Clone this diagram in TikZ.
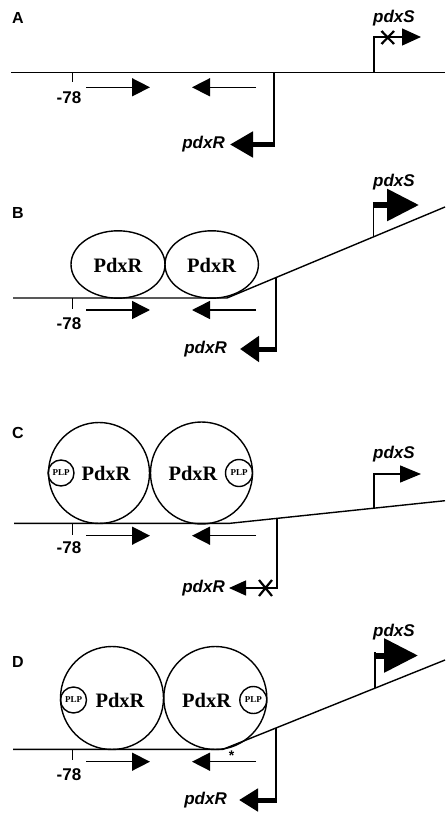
\documentclass[tikz,border=0pt]{standalone}
\usepackage{fontspec}
\setmainfont{Liberation Serif}
\setsansfont{Liberation Sans}
\usetikzlibrary{arrows.meta}

\tikzset{
  dna/.style={line width=1.4pt, line join=miter},
  ln/.style={line width=1.4pt},
  barline/.style={line width=#1},
  tiphead/.style n args={2}{-{Triangle[length=#1pt,width=#2pt]}},
  site/.style={line width=1.5pt, -{Triangle[length=18pt,width=18pt]}},
  panel/.style={font=\sffamily\bfseries\fontsize{16}{16}\selectfont},
  gene/.style={font=\sffamily\bfseries\itshape\fontsize{17}{17}\selectfont, inner sep=0pt},
  poslabel/.style={font=\sffamily\bfseries\fontsize{17}{17}\selectfont, inner sep=0pt},
  prot/.style={font=\bfseries\fontsize{20.5}{20.5}\selectfont, inner sep=0pt},
  plp/.style={font=\bfseries\fontsize{9}{9}\selectfont, inner sep=0pt},
  knock/.style={line width=2.2pt},
}

\begin{document}
\begin{tikzpicture}[x=1pt,y=-1pt]
\useasboundingbox (0,0) rectangle (445,813);
\fill[white] (0,0) rectangle (445,813);

% ---------------- A: free promoter region ----------------
\node[panel] (lA) at (18,18) {A};
\draw[dna] (11,72.7) -- (445,72.7);
\draw[ln] (72.7,72.7) -- (72.7,82);
\node[poslabel] (mA) at (69,98) {-78};
\draw[site] (86,87.3) -- (150,87.3);
\draw[site] (256,87.3) -- (192,87.3);
% pdxR promoter (strong)
\draw[ln] (274,72.7) -- (274,147);
\draw[barline=5pt, tiphead={23}{25}] (274.7,144.5) -- (230,144.5);
\node[gene, anchor=east] (rA) at (225,144.5) {pdxR};
% pdxS promoter (blocked)
\draw[ln, tiphead={19}{17}] (374,72.7) |- (421,37);
\draw[knock] (381.5,31) -- (394,44) (381.5,44) -- (394,31);
\node[gene] (sA) at (394,18) {pdxS};

% ---------------- B: PdxR bound, DNA bent ----------------
\node[panel] (lB) at (18,213) {B};
\draw[dna] (13,298) -- (227,298) -- (445,207);
\draw[ln] (72.7,298) -- (72.7,309);
\node[poslabel] (mB) at (69,324) {-78};
\draw[site] (86,310) -- (150,310);
\draw[site] (256,310) -- (192,310);
\draw[ln] (118,264.5) ellipse [x radius=47, y radius=33.7];
\draw[ln] (211.7,264.5) ellipse [x radius=46.7, y radius=33.7];
\node[prot] (pB1) at (118,265) {PdxR};
\node[prot] (pB2) at (211.7,265) {PdxR};
% pdxR promoter
\draw[ln] (276,277.5) -- (276,351.5);
\draw[barline=5pt, tiphead={19}{25}] (276.7,349) -- (240,349);
\node[gene, anchor=east] (rB) at (227,349) {pdxR};
% pdxS promoter (activated)
\draw[ln] (373.5,237) -- (373.5,202.5);
\draw[barline=6pt, tiphead={32}{31}] (372.8,205) -- (419,205);
\node[gene] (sB) at (394,182) {pdxS};

% ---------------- C: PdxR-PLP bound ----------------
\node[panel] (lC) at (18,433) {C};
\draw[dna] (14,523.3) -- (230,523.3) -- (445,500.7);
\draw[ln] (72.7,523.3) -- (72.7,535);
\node[poslabel] (mC) at (69,548) {-78};
\draw[site] (86,535.7) -- (150,535.7);
\draw[site] (256,535.7) -- (192,535.7);
\draw[ln] (99,473) circle [radius=50.5];
\draw[ln] (201.5,473) circle [radius=51];
\draw[ln] (61,473) circle [radius=13];
\draw[ln] (239,473) circle [radius=13.5];
\node[plp] (qC1) at (61,473) {PLP};
\node[plp] (qC2) at (239,473) {PLP};
\node[prot] (pC1) at (106,473) {PdxR};
\node[prot] (pC2) at (193,473) {PdxR};
% pdxS promoter
\draw[ln, tiphead={21}{17}] (374,508.2) |- (421,474);
\node[gene] (sC) at (394,454) {pdxS};
% pdxR promoter (repressed)
\draw[ln, tiphead={17}{15}] (277,518.4) |- (229,588);
\draw[knock] (259,580) -- (272,596) (259,596) -- (272,580);
\node[gene, anchor=east] (rC) at (225,588) {pdxR};

% ---------------- D: mutated site ----------------
\node[panel] (lD) at (18,661.7) {D};
\draw[dna] (13,749.3) -- (223,749.3) -- (445,660);
\draw[ln] (72.7,749.3) -- (72.7,760);
\node[poslabel] (mD) at (69,775) {-78};
\draw[site] (86,761.7) -- (150,761.7);
\draw[site] (256,761.7) -- (192,761.7);
\node[font=\sffamily\bfseries\fontsize{14}{14}\selectfont, inner sep=0pt] (st) at (231.5,756) {*};
\draw[ln] (112,698) circle [radius=51.5];
\draw[ln] (215.3,698) circle [radius=51.5];
\draw[ln] (73.5,700) circle [radius=13];
\draw[ln] (253.3,700) circle [radius=13.5];
\node[plp] (qD1) at (73.5,700) {PLP};
\node[plp] (qD2) at (253.3,700) {PLP};
\node[prot] (pD1) at (120,700) {PdxR};
\node[prot] (pD2) at (206.7,700) {PdxR};
% pdxS promoter (activated)
\draw[ln] (375,688.2) -- (375,652);
\draw[barline=6pt, tiphead={34}{33}] (374.3,655.5) -- (418,655.5);
\node[gene] (sD) at (394,631.7) {pdxS};
% pdxR promoter
\draw[ln] (276,728) -- (276,802.5);
\draw[barline=5pt, tiphead={19}{22}] (276.7,800) -- (239,800);
\node[gene, anchor=east] (rD) at (227,800) {pdxR};
\end{tikzpicture}
\end{document}
